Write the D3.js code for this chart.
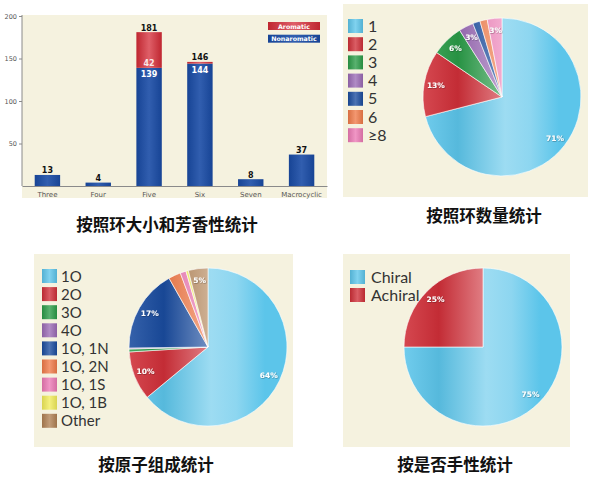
<!DOCTYPE html>
<html><head><meta charset="utf-8">
<script src="https://cdn.jsdelivr.net/npm/d3@7"></script>
<style>
html,body{margin:0;padding:0;background:#fff;}
svg{display:block;}
</style></head>
<body>
<script>
// ---------- DATA ----------
const barCategories = ["Three","Four","Five","Six","Seven","Macrocyclic"];
const nonaromatic = [13,4,139,144,8,37];
const aromatic = [0,0,42,2,0,0];
const yTicks = [50,100,150,200];
const barLegend = ["Aromatic","Nonaromatic"];

const ringCountLabels = ["1","2","3","4","5","6","≥8"];
const ringCountValues = [71,13.5,6.5,3,1.5,1.5,3];
const ringCountText = ["71%","13%","6%","3%","","","3%"];

const compLabels = ["1O","2O","3O","4O","1O, 1N","1O, 2N","1O, 1S","1O, 1B","Other"];
const compValues = [64,10,0.6,0.2,17,2.5,1.2,0.5,4];
const compText = ["64%","10%","","","17%","","","","5%"];

const chiralLabels = ["Chiral","Achiral"];
const chiralValues = [75,25];
const chiralText = ["75%","25%"];

const titles = ["按照环大小和芳香性统计","按照环数量统计","按原子组成统计","按是否手性统计"];

// ---------- STYLE ----------
const BEIGE = "#f5f2df";
const LBLUE="#5cc5ea", RED="#cf2f38", GREEN="#2a9b47", PURPLE="#9a6ab5", DBLUE="#1a4c9e",
      ORANGE="#f07a48", PINK="#ec79b4", YELLOW="#f1ec5a", BROWN="#b08052";
const ringColors = [LBLUE,RED,GREEN,PURPLE,DBLUE,ORANGE,PINK];
const compColors = [LBLUE,RED,GREEN,PURPLE,DBLUE,ORANGE,PINK,YELLOW,BROWN];
const chiralColors = [LBLUE,RED];

const W=602,H=485;
const svg = d3.select("body").append("svg").attr("width",W).attr("height",H);
const defs = svg.append("defs");
const sh = defs.append("filter").attr("id","tsh").attr("x","-20%").attr("y","-20%").attr("width","140%").attr("height","140%");
sh.append("feDropShadow").attr("dx",0.5).attr("dy",0.5).attr("stdDeviation",0.4).attr("flood-color","#000").attr("flood-opacity",0.45);

const mixW=(c,t)=>d3.interpolateRgb(c,"#ffffff")(t);
const mixB=(c,t)=>d3.interpolateRgb(c,"#000000")(t);
let gid=0;
function boxGrad(c,lt){
  const id="bg"+(gid++);
  const g=defs.append("linearGradient").attr("id",id).attr("x1","0").attr("x2","1").attr("y1","0").attr("y2","0");
  [[0,mixB(c,0.1)],[0.5,mixW(c,lt==null?0.22:lt)],[1,mixB(c,0.1)]].forEach(s=>g.append("stop").attr("offset",s[0]).attr("stop-color",s[1]));
  return "url(#"+id+")";
}
function pieGrad(c,x1,x2){
  const id="pg"+(gid++);
  const g=defs.append("linearGradient").attr("id",id).attr("gradientUnits","userSpaceOnUse")
    .attr("x1",x1).attr("x2",x2).attr("y1",0).attr("y2",0);
  [[0,mixW(c,0.12)],[0.22,mixB(c,0.06)],[0.52,mixW(c,0.4)],[0.68,mixW(c,0.3)],[0.86,c],[1,c]]
    .forEach(s=>g.append("stop").attr("offset",s[0]).attr("stop-color",s[1]));
  return "url(#"+id+")";
}

// ---------- PANEL BACKGROUNDS ----------
const panels=[[22,15,305,183],[343,4,245,193],[34,254,259,193],[343,254,227,193]];
panels.forEach(p=>svg.append("rect").attr("x",p[0]).attr("y",p[1]).attr("width",p[2]).attr("height",p[3]).attr("fill",BEIGE));

// ---------- BAR CHART ----------
const x=d3.scaleBand().domain(barCategories).range([22,327]).paddingInner(0.5).paddingOuter(0.25);
const y=d3.scaleLinear().domain([0,200]).range([186,16]);
const bar=svg.append("g");
const blueFill=boxGrad("#1a4ca6",0.1), redFill=boxGrad("#d42a35",0.25);
barCategories.forEach((c,i)=>{
  const n=nonaromatic[i], a=aromatic[i];
  bar.append("rect").attr("x",x(c)).attr("width",x.bandwidth()).attr("y",y(n)).attr("height",y(0)-y(n)).attr("fill",blueFill);
  if(a>0) bar.append("rect").attr("x",x(c)).attr("width",x.bandwidth()).attr("y",y(n+a)).attr("height",y(n)-y(n+a)).attr("fill",redFill);
  bar.append("text").attr("x",x(c)+x.bandwidth()/2).attr("y",y(n+a)-1.5).attr("text-anchor","middle")
    .attr("font-family","DejaVu Sans, sans-serif").attr("font-weight","bold").attr("font-size",8).attr("fill","#111").text(n+a);
  if(a>10){
    bar.append("text").attr("x",x(c)+x.bandwidth()/2).attr("y",y(n)-2).attr("text-anchor","middle")
      .attr("font-family","DejaVu Sans, sans-serif").attr("font-weight","bold").attr("font-size",8).attr("fill","#fbe6e8").text(a);
  }
  if(a>0){
    bar.append("text").attr("x",x(c)+x.bandwidth()/2).attr("y",y(n)+9).attr("text-anchor","middle")
      .attr("font-family","DejaVu Sans, sans-serif").attr("font-weight","bold").attr("font-size",8).attr("fill","#fff").text(n);
  }
});
const yAx=svg.append("g").attr("transform","translate(22,0)")
  .call(d3.axisLeft(y).tickValues(yTicks).tickSize(3).tickSizeOuter(0).tickPadding(2));
yAx.select(".domain").attr("stroke","#8a8a8a").attr("d","M0,15V186");
yAx.selectAll(".tick line").attr("stroke","#8a8a8a");
yAx.selectAll("text").attr("font-family","DejaVu Sans, sans-serif").attr("font-size",6.5).attr("fill","#555");
const xAx=svg.append("g").attr("transform","translate(0,186)")
  .call(d3.axisBottom(x).tickSize(0).tickSizeOuter(0).tickPadding(6));
xAx.select(".domain").attr("stroke","#8a8a8a");
xAx.selectAll("text").attr("font-family","DejaVu Sans, sans-serif").attr("font-size",7).attr("fill","#555");
// bar legend
[redFill,blueFill].forEach((f,i)=>{
  svg.append("rect").attr("x",268).attr("y",22+i*12.7).attr("width",52).attr("height",8).attr("fill",f);
  svg.append("text").attr("x",294).attr("y",22+i*12.7+6.5).attr("text-anchor","middle")
    .attr("font-family","DejaVu Sans, sans-serif").attr("font-weight","bold").attr("font-size",6.3).attr("fill","#fff").text(barLegend[i]);
});

// ---------- PIES ----------
function drawPie(values,colors,texts,labels,cx,cy,r,leg){
  const pie=d3.pie().sort(null).startAngle(0).endAngle(2*Math.PI);
  const arc=d3.arc().innerRadius(0).outerRadius(r);
  const g=svg.append("g").attr("transform",`translate(${cx},${cy})`);
  const arcs=pie(values);
  g.selectAll("path").data(arcs).join("path").attr("d",arc)
    .attr("fill",(d,i)=>pieGrad(colors[i],-r,r)).attr("stroke","#fff").attr("stroke-width",0.6);
  const la=d3.arc().innerRadius(r*0.85).outerRadius(r*0.85);
  g.selectAll("text").data(arcs).join("text")
    .attr("transform",d=>`translate(${la.centroid(d)})`).attr("text-anchor","middle").attr("dy","0.35em")
    .attr("font-family","DejaVu Sans, sans-serif").attr("font-weight","bold").attr("font-size",7.5)
    .attr("fill","#fff").attr("filter","url(#tsh)").text((d,i)=>texts[i]);
  labels.forEach((l,i)=>{
    const yc=leg.y+i*leg.step;
    svg.append("rect").attr("x",leg.x).attr("y",yc-7).attr("width",15).attr("height",14).attr("fill",boxGrad(colors[i]));
    svg.append("text").attr("x",leg.tx).attr("y",yc+5.5).attr("font-family","Lato, 'Open Sans', sans-serif")
      .attr("font-size",leg.fs).attr("fill","#333").text(l);
  });
}
drawPie(ringCountValues,ringColors,ringCountText,ringCountLabels,502,97,79,{x:348,y:26,step:18.2,tx:368,fs:16});
drawPie(compValues,compColors,compText,compLabels,208,347,79,{x:42,y:276,step:18.1,tx:61,fs:15});
drawPie(chiralValues,chiralColors,chiralText,chiralLabels,483,347,79,{x:350,y:277,step:18,tx:371,fs:16});

// ---------- TITLES ----------
const tpos=[[167,225],[484,216],[156,465],[455,465]];
titles.forEach((t,i)=>{
  svg.append("text").attr("x",tpos[i][0]).attr("y",tpos[i][1]).attr("dy","0.36em").attr("text-anchor","middle")
    .attr("font-family","'Noto Sans CJK SC', sans-serif").attr("font-weight","bold").attr("font-size",16.5)
    .attr("fill","#111").text(t);
});
</script>
</body></html>
